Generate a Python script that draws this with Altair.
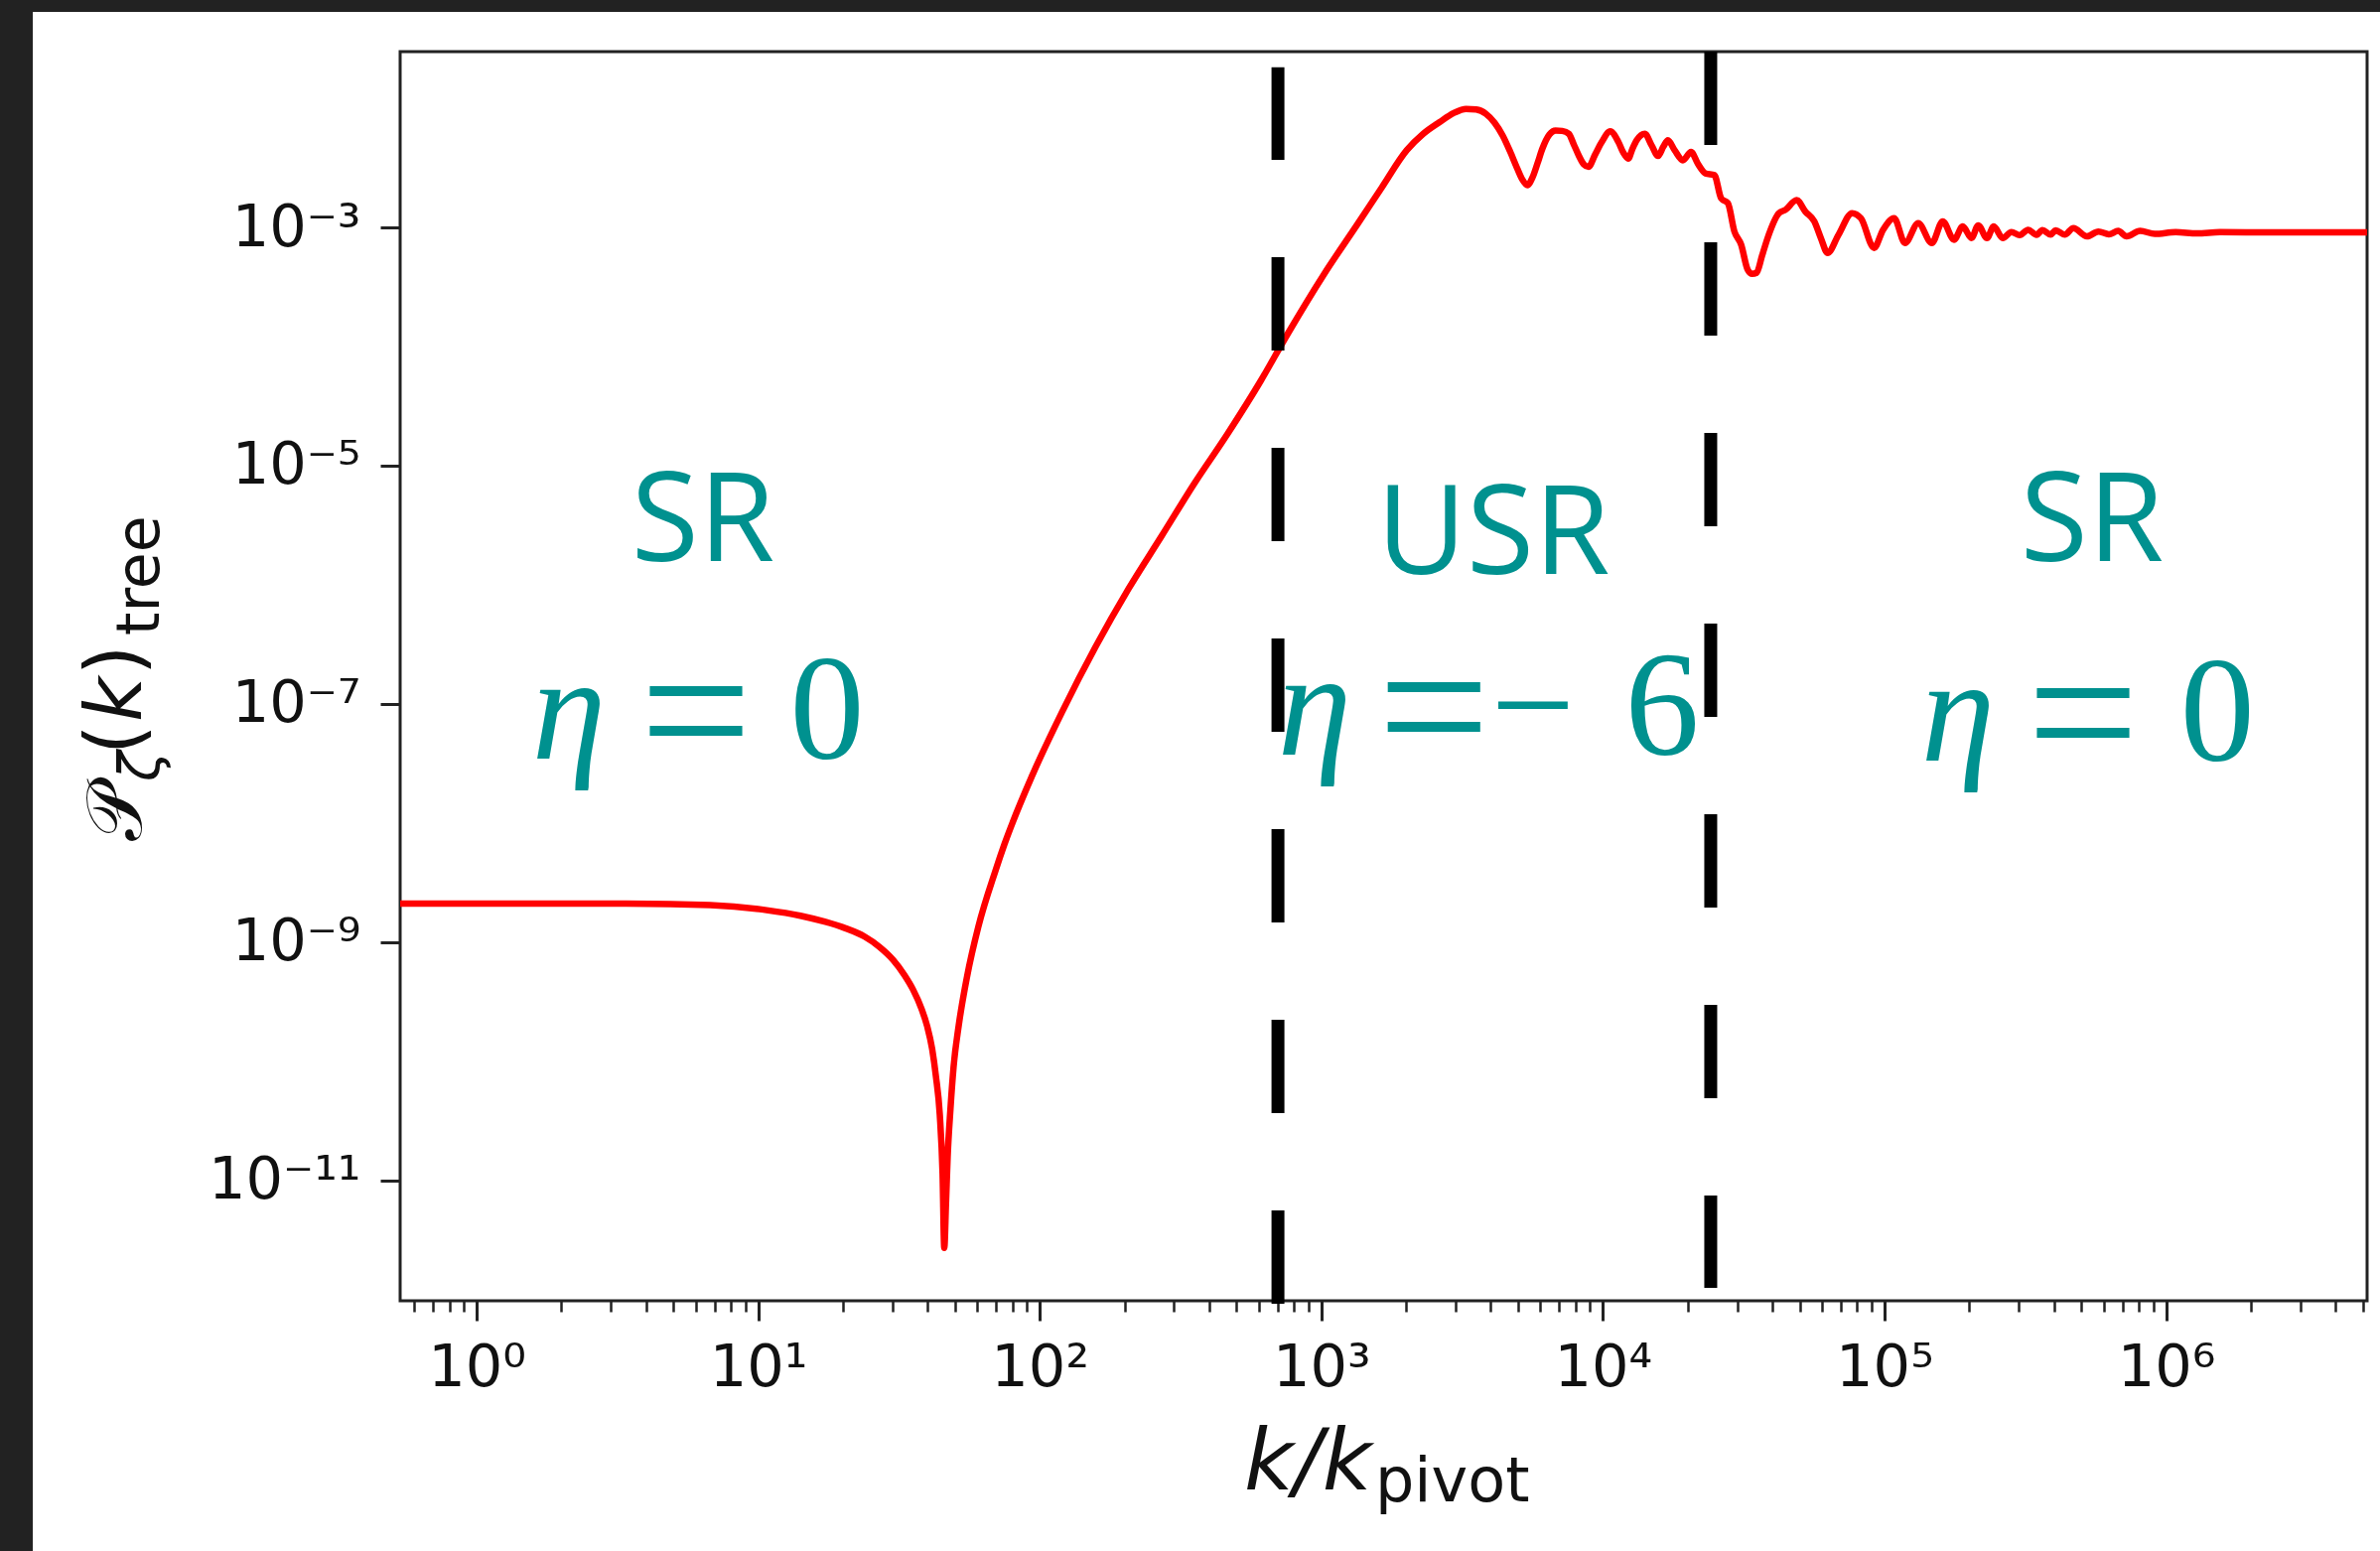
import altair as alt
import pandas as pd

# ---------------- data ----------------
# curve: log10(k/k_pivot) and log10(P_zeta); the tail is kept as a separate pair of arrays
log_k_main = [-0.272, 0.0, 0.3, 0.53, 0.83, 1.03, 1.15, 1.236, 1.31, 1.378, 1.43, 1.479, 1.52,
              1.550, 1.580, 1.600, 1.618, 1.631, 1.645, 1.655, 1.661, 1.667, 1.673, 1.683, 1.694,
              1.712, 1.742, 1.782, 1.843, 1.875, 1.975, 2.080, 2.198, 2.315, 2.433, 2.550, 2.668,
              2.786, 2.880, 3.009, 3.127, 3.215, 3.303, 3.362, 3.420, 3.470, 3.514, 3.550, 3.585,
              3.615, 3.644, 3.670, 3.691, 3.712, 3.732, 3.750, 3.768, 3.785, 3.810, 3.832, 3.856,
              3.879, 3.896, 3.914, 3.932, 3.949, 3.972, 3.996, 4.026, 4.055, 4.072, 4.090, 4.105,
              4.120, 4.149, 4.173, 4.196, 4.215, 4.231, 4.255, 4.284, 4.313, 4.337, 4.365, 4.396,
              4.420, 4.444, 4.467, 4.491, 4.514, 4.530, 4.546, 4.565, 4.585, 4.625, 4.648, 4.688,
              4.719, 4.751, 4.774, 4.798, 4.837, 4.885, 4.916, 4.963, 4.995, 5.034, 5.073, 5.120,
              5.168, 5.207, 5.247, 5.278, 5.309, 5.333, 5.364, 5.388, 5.420]
log_P_main = [-8.677, -8.677, -8.677, -8.678, -8.691, -8.733, -8.78, -8.830, -8.885, -8.955, -9.04,
              -9.150, -9.28, -9.400, -9.56, -9.706, -9.90, -10.123, -10.45, -10.95, -11.569, -11.20,
              -10.80, -10.40, -10.05, -9.706, -9.289, -8.872, -8.400, -8.177, -7.593, -7.065, -6.523,
              -6.036, -5.591, -5.147, -4.730, -4.284, -3.896, -3.395, -2.978, -2.664, -2.353, -2.214,
              -2.116, -2.04, -2.005, -2.01, -2.047, -2.12, -2.228, -2.36, -2.478, -2.59, -2.645,
              -2.58, -2.46, -2.339, -2.22, -2.186, -2.19, -2.214, -2.30, -2.395, -2.47, -2.491,
              -2.39, -2.283, -2.194, -2.283, -2.37, -2.422, -2.34, -2.269, -2.214, -2.311, -2.400,
              -2.32, -2.269, -2.353, -2.436, -2.366, -2.464, -2.547, -2.561, -2.756, -2.797, -3.034,
              -3.145, -3.354, -3.39, -3.381, -3.24, -3.089, -2.881, -2.853, -2.770, -2.867, -2.950,
              -3.089, -3.214, -3.061, -2.881, -2.922, -3.172, -3.020, -2.922, -3.131, -2.964, -3.131,
              -2.950, -3.103, -2.992, -3.089, -2.983, -3.089, -2.992, -3.089]
log_k_tail = [5.451, 5.480, 5.510, 5.540, 5.561, 5.590, 5.608, 5.640, 5.671, 5.719, 5.760,
              5.797, 5.830, 5.860, 5.908, 5.960, 6.034, 6.110, 6.191, 6.349, 6.506, 6.714]
log_P_tail = [-3.039, -3.065, -3.020, -3.062, -3.022, -3.060, -3.025, -3.060, -3.006, -3.075,
              -3.035, -3.058, -3.030, -3.075, -3.028, -3.055, -3.040, -3.050, -3.040, -3.042,
              -3.042, -3.042]

# dashed transition lines (log10 k) and their vertical extents (log10 P: start, end)
line_log_k = [2.846, 4.383]
line_log_P_start = [-12.038, -1.524]
line_log_P_end = [-1.655, -11.904]

# region labels
region_text = ["SR", "USR", "SR"]
region_log_k = [0.804, 3.611, 5.737]
region_log_P = [-5.800, -5.908, -5.805]

eta_log_k = [0.328, 2.976, 5.261]
eta_log_P = [-7.46, -7.43, -7.48]

eq_log_k = [0.779, 3.400, 5.705]
eq_log_P = [-7.46, -7.43, -7.48]

num_text = ["0", "\u2212", "6", "0"]
num_log_k = [1.245, 3.752, 4.210, 6.182]
num_log_P = [-7.46, -7.43, -7.43, -7.48]

x_major_exp = [0, 1, 2, 3, 4, 5, 6]
y_major_exp = [-11, -9, -7, -5, -3]
x_minor = ([m / 10 for m in range(6, 10)]
           + [m * 10 ** d for d in range(0, 6) for m in range(2, 10)]
           + [m * 1e6 for m in range(2, 6)])

x_domain_exp = [-0.2715, 6.714]
y_domain_exp = [-12.013, -1.524]

# ---------------- tables ----------------
log_k = log_k_main + log_k_tail
log_P = log_P_main + log_P_tail
n = min(len(log_k), len(log_P))
curve = pd.DataFrame({"k": [10 ** v for v in log_k[:n]], "P": [10 ** v for v in log_P[:n]]})
lines = pd.DataFrame({
    "k": [10 ** v for v in line_log_k],
    "P0": [10 ** v for v in line_log_P_start],
    "P1": [10 ** v for v in line_log_P_end],
})
regions = pd.DataFrame({"t": region_text, "k": [10 ** v for v in region_log_k],
                        "P": [10 ** v for v in region_log_P]})
etas = pd.DataFrame({"t": ["\u03b7"] * 3, "k": [10 ** v for v in eta_log_k],
                     "P": [10 ** v for v in eta_log_P]})
eqs = pd.DataFrame({"t": ["="] * 3, "k": [10 ** v for v in eq_log_k],
                    "P": [10 ** v for v in eq_log_P]})
nums = pd.DataFrame({"t": num_text, "k": [10 ** v for v in num_log_k],
                     "P": [10 ** v for v in num_log_P]})
one = pd.DataFrame({"a": [0]})

# ---------------- styling ----------------
W, H = 1981, 1258
PAD = {"left": 403, "top": 52, "right": 13, "bottom": 252}
TEAL = "#00918f"
INK = "#111111"
FRAME = "#222222"

SUP = {"-": "\u207b", "0": "\u2070", "1": "\u00b9", "2": "\u00b2", "3": "\u00b3",
       "4": "\u2074", "5": "\u2075", "6": "\u2076", "7": "\u2077", "8": "\u2078", "9": "\u2079"}


def sup_label(e):
    return "10" + "".join(SUP[c] for c in str(e))


def label_expr(exps):
    parts = [f"round(log(datum.value)/LN10) == {e} ? '{sup_label(e)}'" for e in exps]
    return " : ".join(parts) + " : ''"


x_scale = alt.Scale(type="log", domain=[10 ** x_domain_exp[0], 10 ** x_domain_exp[1]], nice=False)
y_scale = alt.Scale(type="log", domain=[10 ** y_domain_exp[0], 10 ** y_domain_exp[1]], nice=False)

common_axis = dict(domain=False, grid=False, title=None, tickColor=FRAME, tickWidth=3,
                   labelFont="DejaVu Sans", labelFontSize=59, labelColor=INK,
                   labelOverlap=False, labelFlush=False, labelBound=False)

x_axis = alt.Axis(values=[10 ** e for e in x_major_exp], labelExpr=label_expr(x_major_exp),
                  tickSize=20, labelPadding=18, orient="bottom", **common_axis)
x_minor_axis = alt.Axis(values=x_minor, labels=False, tickSize=11, orient="bottom",
                        domain=False, grid=False, title=None, tickColor=FRAME, tickWidth=2.5)
y_axis = alt.Axis(values=[10 ** e for e in y_major_exp], labelExpr=label_expr(y_major_exp),
                  tickSize=20, labelPadding=20, orient="left", **common_axis)

# ---------------- layers ----------------
band_top = alt.Chart(one).mark_rect(color="#222222").encode(
    x=alt.value(-PAD["left"]), x2=alt.value(W + PAD["right"]),
    y=alt.value(-PAD["top"]), y2=alt.value(-PAD["top"] + 12))
band_left = alt.Chart(one).mark_rect(color="#222222").encode(
    x=alt.value(-PAD["left"]), x2=alt.value(-PAD["left"] + 33),
    y=alt.value(-PAD["top"]), y2=alt.value(H + PAD["bottom"]))

curve_layer = alt.Chart(curve).mark_line(color="#ff0000", strokeWidth=6.5,
                                         interpolate="monotone", clip=True).encode(
    x=alt.X("k:Q", scale=x_scale, axis=x_axis),
    y=alt.Y("P:Q", scale=y_scale, axis=y_axis))

rule_layer = alt.Chart(lines).mark_rule(color="black", strokeWidth=13,
                                        strokeDash=[94, 98]).encode(
    x=alt.X("k:Q", scale=x_scale, axis=x_minor_axis),
    y=alt.Y("P0:Q", scale=y_scale, axis=None),
    y2="P1:Q")


def anno(df, **kw):
    return alt.Chart(df).mark_text(color=TEAL, align="center", baseline="alphabetic",
                                   **kw).encode(
        x=alt.X("k:Q", scale=x_scale, axis=None),
        y=alt.Y("P:Q", scale=y_scale, axis=None),
        text="t:N")


region_layer = anno(regions, font="Open Sans", fontSize=124)
eta_layer = anno(etas, font="Liberation Serif", fontStyle="italic", fontSize=150)
eq_layer = anno(eqs, font="Liberation Serif", fontSize=200, dy=18)
num_layer = anno(nums, font="Liberation Serif", fontSize=150)


def piece(txt, x, y, size, italic=False, angle=0, font="DejaVu Sans"):
    kw = dict(font=font, fontSize=size, color=INK, align="left", baseline="alphabetic",
              text=txt)
    if italic:
        kw["fontStyle"] = "italic"
    if angle:
        kw["angle"] = angle
    return alt.Chart(one).mark_text(**kw).encode(x=alt.value(x), y=alt.value(y))


# y-axis title  P_zeta(k)_tree  (rotated, reading upwards)
y_title = [
    piece("\U0001D4AB", -261, 795, 78, angle=270),
    piece("\u03b6", -243, 735, 56, italic=True, angle=270),
    piece("(", -261, 708, 78, angle=270),
    piece("k", -261, 675, 78, italic=True, angle=270),
    piece(")", -261, 628, 78, angle=270),
    piece("tree", -243, 588, 60, angle=270),
]
# x-axis title  k/k_pivot
x_title = [
    piece("k/k", 850, 1448, 86, italic=True),
    piece("pivot", 982, 1460, 62),
]

chart = alt.layer(
    band_top, band_left, curve_layer, rule_layer, region_layer, eta_layer, eq_layer,
    num_layer, *y_title, *x_title
).resolve_axis(x="independent", y="independent").properties(
    width=W, height=H, padding=PAD,
    autosize=alt.AutoSizeParams(type="none"),
    background="white",
).configure_view(stroke=FRAME, strokeWidth=3, fill="white")

chart.save("out.html", embed_options={"renderer": "svg", "actions": False})
